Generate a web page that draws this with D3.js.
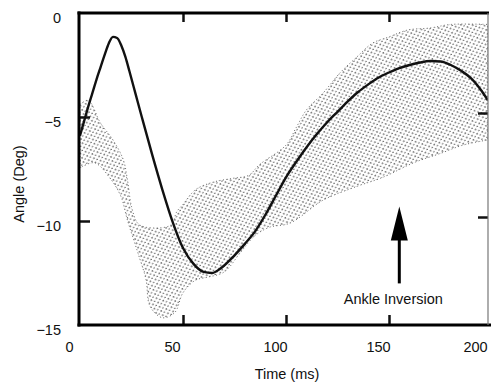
<!DOCTYPE html>
<html>
<head>
<meta charset="utf-8">
<script src="https://cdn.jsdelivr.net/npm/d3@7"></script>
<style>
  html, body { margin: 0; padding: 0; background: #fff; }
  svg text { font-family: "Liberation Sans", Arial, sans-serif; font-size: 14.5px; fill: #111; }
</style>
</head>
<body>
<svg id="chart" width="491" height="383"></svg>
<script>
// Mean ankle angle trace (ms, degrees)
const meanTime  = [0, 2, 4, 6, 8, 10, 12, 14, 16, 18, 20, 22, 24, 27, 30, 35, 40, 45, 50, 55, 60, 64, 68, 75, 80, 85, 90, 95, 100, 105, 110, 115, 120, 125, 130, 135, 140, 145, 150, 155, 160, 165, 170, 175, 180, 185, 190, 195, 198];
const meanAngle = [-5.9, -5.2, -4.5, -3.85, -3.2, -2.6, -2.0, -1.45, -1.15, -1.2, -1.55, -2.1, -2.8, -3.9, -5.0, -6.8, -8.5, -10.05, -11.3, -12.05, -12.45, -12.5, -12.3, -11.65, -11.1, -10.5, -9.7, -8.8, -7.9, -7.15, -6.45, -5.82, -5.25, -4.75, -4.25, -3.8, -3.43, -3.1, -2.86, -2.65, -2.5, -2.38, -2.31, -2.33, -2.5, -2.78, -3.15, -3.75, -4.2];

// Upper edge of the trial-to-trial spread
const upperTime  = [0, 4, 10, 16, 21, 23, 25, 28, 32, 44, 47, 50, 56, 64, 74, 82, 87, 100, 105, 110, 118, 126, 134, 142, 150, 159, 170, 180, 198];
const upperAngle = [-4.4, -4.2, -5.3, -6.1, -7.05, -8.0, -9.3, -10.1, -10.3, -10.2, -9.55, -9.2, -8.5, -8.15, -7.95, -7.8, -7.3, -6.35, -5.5, -4.65, -3.85, -2.9, -2.15, -1.45, -1.15, -0.82, -0.72, -0.55, -0.55];

// Lower edge of the trial-to-trial spread
const lowerTime  = [0, 7, 15, 20, 23, 28, 32, 34, 40, 46, 50, 56, 62, 70, 78, 85, 92, 102, 118, 134, 147, 162, 175, 186, 198];
const lowerAngle = [-7.45, -7.2, -8.0, -8.85, -9.95, -11.5, -12.8, -14.1, -14.65, -14.4, -13.45, -12.85, -12.7, -12.45, -11.5, -10.7, -10.3, -10.1, -9.0, -8.35, -7.9, -7.2, -6.75, -6.35, -6.1];

const xTicks = [0, 50, 100, 150, 200];
const yTicks = [0, -5, -10, -15];
const arrowTime = 155, arrowFrom = -13.0, arrowTo = -9.3;
const arrowLabel = "Ankle Inversion";

const svg = d3.select("#chart");
const plotL = 80, plotR = 488, plotT = 13, plotB = 325;

const x = d3.scaleLinear().domain([0, 200]).range([plotL, 492]);
const y = d3.scaleLinear().domain([-15, 0]).range([plotB, plotT]);

const defs = svg.append("defs");
defs.append("clipPath").attr("id", "plot")
  .append("rect").attr("x", plotL).attr("y", plotT).attr("width", plotR - plotL).attr("height", plotB - plotT);

// stippled texture for the spread band
const pat = defs.append("pattern").attr("id", "stipple")
  .attr("patternUnits", "userSpaceOnUse").attr("width", 5.5).attr("height", 4.5)
  .attr("patternTransform", "rotate(-20)");
pat.append("rect").attr("x", 0.4).attr("y", 0.3).attr("width", 1.5).attr("height", 1.1).attr("fill", "#2a2a2a");
pat.append("rect").attr("x", 3.1).attr("y", 2.5).attr("width", 1.3).attr("height", 1.1).attr("fill", "#4a4a4a");

const plot = svg.append("g").attr("clip-path", "url(#plot)");

// band polygon: upper edge forward, lower edge back
const upperPts = upperTime.map((t, i) => [x(t), y(upperAngle[i])]);
const lowerPts = lowerTime.map((t, i) => [x(t), y(lowerAngle[i])]);
const edge = d3.line().curve(d3.curveCatmullRom.alpha(0.5));
const bandPath = edge(upperPts) + "L" + edge(lowerPts.slice().reverse()).slice(1) + "Z";

plot.append("path").attr("d", bandPath).attr("fill", "url(#stipple)");
plot.append("path").attr("d", bandPath).attr("fill", "none")
  .attr("stroke", "#555").attr("stroke-width", 0.9).attr("stroke-dasharray", "1 2.5");

// mean trace
const meanLine = d3.line()
  .x((d, i) => x(meanTime[i]))
  .y(d => y(d))
  .curve(d3.curveMonotoneX);
plot.append("path").datum(meanAngle).attr("d", meanLine)
  .attr("fill", "none").attr("stroke", "#111").attr("stroke-width", 2.4)
  .attr("stroke-linejoin", "round");

// ticks and labels
const xAxis = svg.append("g").attr("transform", `translate(0,${plotB})`)
  .call(d3.axisBottom(x).tickValues(xTicks).tickSize(-10).tickPadding(17).tickFormat(d3.format("d")));
xAxis.select(".domain").remove();
xAxis.selectAll(".tick line").attr("stroke", "#111").attr("stroke-width", 2.5)
  .filter(d => d === 0 || d === 200).remove();
xAxis.selectAll(".tick text").attr("dx", d => d === 200 ? -17 : -11).attr("dy", 0).attr("y", 27);

const topAxis = svg.append("g").attr("transform", `translate(0,${plotT})`)
  .call(d3.axisTop(x).tickValues([50, 100, 150]).tickSize(-9).tickFormat(""));
topAxis.select(".domain").remove();
topAxis.selectAll(".tick line").attr("stroke", "#111").attr("stroke-width", 2.5);

const yAxis = svg.append("g").attr("transform", `translate(${plotL},0)`)
  .call(d3.axisLeft(y).tickValues(yTicks).tickSize(-10).tickPadding(19).tickFormat(d3.format("d")));
yAxis.select(".domain").remove();
yAxis.selectAll(".tick line").attr("stroke", "#111").attr("stroke-width", 2.5)
  .filter(d => d === 0 || d === -15).remove();
yAxis.selectAll(".tick text").attr("dy", 9).attr("x", -19);

const rightAxis = svg.append("g").attr("transform", `translate(${plotR},0)`)
  .call(d3.axisRight(y).tickValues([-5, -10]).tickSize(-10).tickFormat(""));
rightAxis.select(".domain").remove();
rightAxis.selectAll(".tick line").attr("stroke", "#111").attr("stroke-width", 2.5)
  .attr("transform", "translate(0,-4)");

svg.selectAll(".tick text").style("font-family", "'Liberation Sans', Arial, sans-serif")
  .style("font-size", "14.5px").attr("fill", "#111");

// frame
svg.append("line").attr("x1", plotL - 1).attr("x2", plotL - 1).attr("y1", plotT - 1.5).attr("y2", plotB + 1.5)
  .attr("stroke", "#000").attr("stroke-width", 3);
svg.append("line").attr("x1", plotL - 2.5).attr("x2", plotR + 1).attr("y1", plotT).attr("y2", plotT)
  .attr("stroke", "#000").attr("stroke-width", 3);
svg.append("line").attr("x1", plotL - 2.5).attr("x2", 491).attr("y1", plotB).attr("y2", plotB)
  .attr("stroke", "#000").attr("stroke-width", 3);
svg.append("line").attr("x1", plotR).attr("x2", plotR).attr("y1", plotT).attr("y2", plotB)
  .attr("stroke", "#777").attr("stroke-width", 1.2);

// annotation arrow
const ax = x(arrowTime), ayTip = y(arrowTo), ayBase = y(arrowFrom);
const headLen = 34, headHalf = 8.5;
svg.append("line").attr("x1", ax).attr("x2", ax).attr("y1", ayBase).attr("y2", ayTip + headLen - 1)
  .attr("stroke", "#000").attr("stroke-width", 3);
svg.append("path")
  .attr("d", `M${ax},${ayTip} L${ax + headHalf},${ayTip + headLen} L${ax - headHalf},${ayTip + headLen} Z`)
  .attr("fill", "#000");
svg.append("text").attr("x", ax - 6).attr("y", ayBase + 21).attr("text-anchor", "middle").text(arrowLabel);

// axis titles
svg.append("text").attr("x", (plotL + plotR) / 2 + 3).attr("y", 379).attr("text-anchor", "middle").text("Time (ms)");
svg.append("text").attr("transform", "translate(24,184) rotate(-90)").attr("text-anchor", "middle").text("Angle (Deg)");
</script>
</body>
</html>
